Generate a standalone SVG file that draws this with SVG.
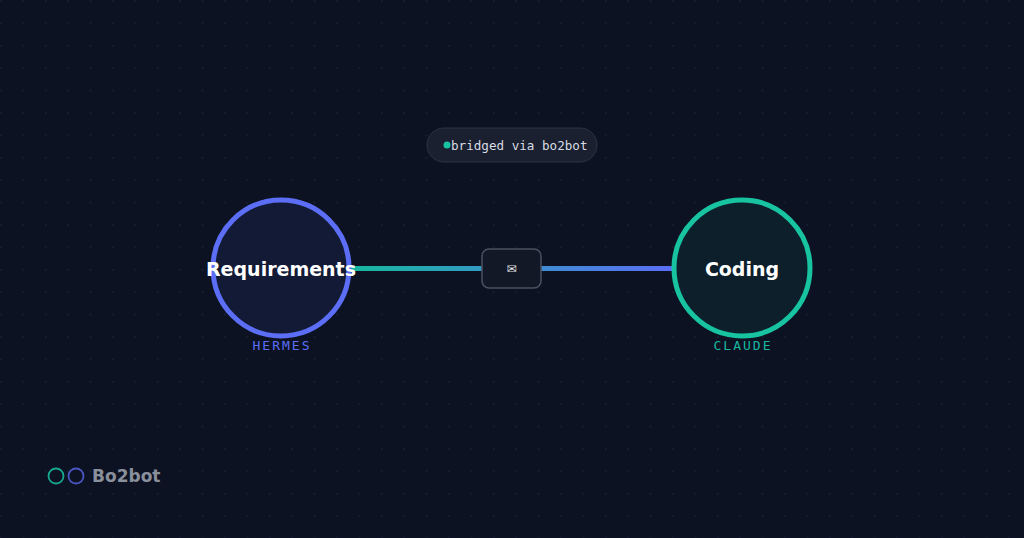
<svg xmlns="http://www.w3.org/2000/svg" width="1024" height="538" viewBox="0 0 1024 538">
<defs>
<pattern id="dots" width="22.4" height="22.4" patternUnits="userSpaceOnUse"><circle cx="1" cy="1" r="0.8" fill="#222c44"/></pattern>
<linearGradient id="lg" x1="350" y1="0" x2="672" y2="0" gradientUnits="userSpaceOnUse"><stop offset="0" stop-color="#17b8a0"/><stop offset="1" stop-color="#5b6ef5"/></linearGradient>
<style>
.lbl{font-family:"DejaVu Sans",sans-serif;font-weight:bold;font-size:19px;fill:#ffffff;text-anchor:middle}
.sub{font-family:"DejaVu Sans Mono",monospace;font-size:13px;letter-spacing:2px;text-anchor:middle}
</style>
</defs>
<rect width="1024" height="538" fill="#0c1222"/>
<rect width="1024" height="538" fill="url(#dots)"/>
<g id="connectors">
<line x1="350" y1="268.5" x2="672" y2="268.5" stroke="url(#lg)" stroke-width="5"/>
</g>
<g id="badge">
<rect x="427" y="128" width="170" height="34" rx="17" fill="#1a2030" stroke="#2c3343"/>
<circle cx="447" cy="145" r="3.5" fill="#17c3a0"/>
<text x="451" y="150" font-family="DejaVu Sans Mono,monospace" font-size="12.6" fill="#d8dbe2">bridged via bo2bot</text>
</g>
<g id="msg">
<rect x="482" y="249" width="59" height="39" rx="7" fill="#121826" stroke="#4a5060" stroke-width="1.5"/>
<text x="511.5" y="273" font-family="DejaVu Sans,sans-serif" font-size="12" fill="#e0e0e0" text-anchor="middle">✉</text>
</g>
<g id="requirements">
<circle cx="281" cy="268" r="68" fill="#131a35" stroke="#5b6ef5" stroke-width="5"/>
<text class="lbl" x="281" y="276">Requirements</text>
<text class="sub" x="282" y="350" fill="#5b6ef5">HERMES</text>
</g>
<g id="coding">
<circle cx="742" cy="268" r="68" fill="#0c1f2a" stroke="#17c3a0" stroke-width="5"/>
<text class="lbl" x="742" y="276">Coding</text>
<text class="sub" x="743" y="350" fill="#17b8a0">CLAUDE</text>
</g>
<g id="logo">
<circle cx="56" cy="476" r="7.5" fill="none" stroke="#17a88e" stroke-width="1.8"/>
<circle cx="76" cy="476" r="7.5" fill="none" stroke="#4a55c0" stroke-width="1.8"/>
<text x="92" y="482" font-family="DejaVu Sans,sans-serif" font-weight="bold" font-size="17" fill="#8a8f9c">Bo2bot</text>
</g>
</svg>
